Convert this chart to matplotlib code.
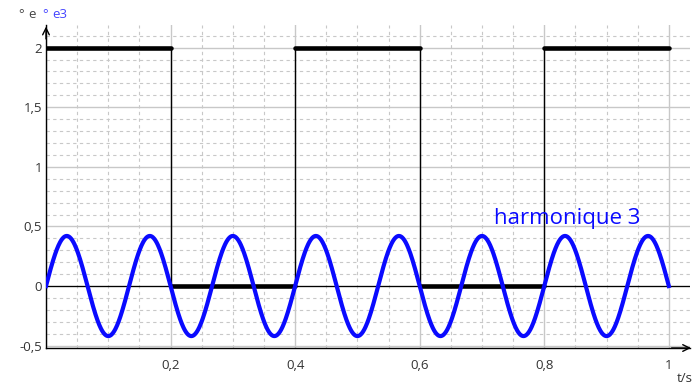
import matplotlib
matplotlib.use("Agg")
import matplotlib.pyplot as plt
import numpy as np
from matplotlib.ticker import MultipleLocator

# square wave e(t): level on each interval
edges = [0.0, 0.2, 0.4, 0.6, 0.8, 1.0]
levels = [2, 0, 2, 0, 2]
# third harmonic e3(t)
h3_amp = 0.42
h3_period = 0.4 / 3

y_ticks = [-0.5, 0, 0.5, 1, 1.5, 2]
x_ticks = [0.2, 0.4, 0.6, 0.8, 1.0]

INK = "#333333"
BLUE = "#0a0aff"
GRID = "#c8c8c8"
plt.rcParams["font.family"] = ["Open Sans", "DejaVu Sans"]

W, H = 693, 387
fig = plt.figure(figsize=(W / 100, H / 100), dpi=100)
ax = fig.add_axes([46 / W, (H - 348) / H, (690 - 46) / W, (348 - 25) / H])
ax.set_xlim(0, 1.034)
ax.set_ylim(-0.52, 2.19)

ax.xaxis.set_major_locator(MultipleLocator(0.2))
ax.xaxis.set_minor_locator(MultipleLocator(0.05))
ax.yaxis.set_major_locator(MultipleLocator(0.5))
ax.yaxis.set_minor_locator(MultipleLocator(0.1))
ax.grid(which="minor", color=GRID, lw=0.8, ls=(0, (3, 3)), zorder=0)
ax.grid(which="major", color=GRID, lw=1.0, zorder=0)

ax.set_yticks(y_ticks)
ax.set_yticklabels([f"{v:g}".replace(".", ",") for v in y_ticks])
ax.set_xticks([0] + x_ticks)
ax.set_xticklabels([""] + [f"{v:g}".replace(".", ",") for v in x_ticks])
ax.tick_params(which="both", length=0, labelsize=9.5, labelcolor=INK)
ax.tick_params(axis="y", pad=3)
ax.tick_params(axis="x", pad=8)

for s in ["top", "right"]:
    ax.spines[s].set_visible(False)
ax.spines["left"].set_color("black")
ax.spines["bottom"].set_color("black")
ax.spines["left"].set_linewidth(1.0)
ax.spines["bottom"].set_linewidth(1.0)

# axis arrows
ax.annotate("", xy=(0, 2.2), xytext=(0, 2.05), annotation_clip=False,
            arrowprops=dict(arrowstyle="->", color="black", lw=1.0,
                            mutation_scale=12))
ax.annotate("", xy=(1.04, -0.52), xytext=(1.0, -0.52), annotation_clip=False,
            arrowprops=dict(arrowstyle="->", color="black", lw=1.0,
                            mutation_scale=12))

ax.axhline(0, color="black", lw=0.9, zorder=2)

# square wave
for a, b, lv in zip(edges[:-1], edges[1:], levels):
    ax.plot([a, b], [lv, lv], color="black", lw=3.3, solid_capstyle="round",
            zorder=3)
for x, (l0, l1) in zip(edges[1:-1], zip(levels[:-1], levels[1:])):
    ax.plot([x, x], [l0, l1], color="black", lw=1.0, zorder=3)

t = np.linspace(0, 1, 1500)
ax.plot(t, h3_amp * np.sin(2 * np.pi * t / h3_period), color=BLUE, lw=3.0,
        zorder=4)

ax.text(0.72, 0.52, "harmonique 3", color=BLUE, fontsize=16, zorder=5)

fig.text(18 / W, 1 - 15 / H, "°", color="#444444", fontsize=9.5, va="center")
fig.text(28 / W, 1 - 15 / H, "e", color="#444444", fontsize=9.5, va="center")
fig.text(42 / W, 1 - 15 / H, "°", color="#4444ff", fontsize=9.5, va="center")
fig.text(52 / W, 1 - 15 / H, "e3", color="#4444ff", fontsize=9.5, va="center")
fig.text(677 / W, 1 - 379 / H, "t/s", color=INK, fontsize=9.5, va="center")

fig.savefig("out.png", dpi=100)
